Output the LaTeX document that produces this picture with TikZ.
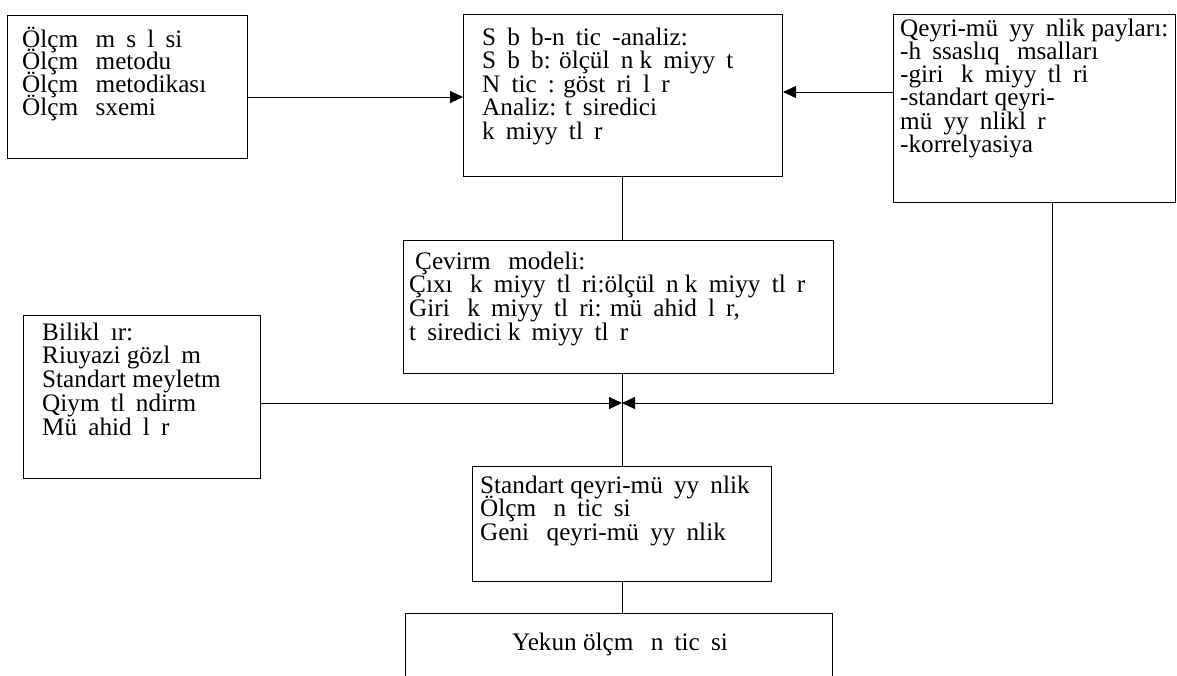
\documentclass[tikz,border=0pt]{standalone}
\usepackage{fontspec}
\setmainfont{Liberation Serif}
\usetikzlibrary{arrows.meta}
% blank of one letter width
\newcommand\mq{\hspace{0.444em}}
% stack of lines with a given baseline distance, baseline = first line
\newcommand\txtlines[2]{\vtop{\baselineskip=#1pt\lineskiplimit=-100pt\relax #2}}

\begin{document}
\begin{tikzpicture}[x=1pt,y=-1pt,
  box/.style={draw, line width=1.1pt, inner sep=0pt, anchor=north west},
  txt/.style={anchor=base west, inner sep=0pt, font=\fontsize{25.2}{29}\selectfont},
  link/.style={line width=0.9pt},
  arr/.style={link, -{Triangle[length=13pt,width=12pt]}}]
\useasboundingbox (0,0) rectangle (1177,675);

% boxes
\node[box, minimum width=240pt, minimum height=143pt] (A) at (7,15) {};
\node[box, minimum width=319pt, minimum height=162pt] (B) at (463,14) {};
\node[box, minimum width=282pt, minimum height=188pt] (C) at (893,14) {};
\node[box, minimum width=430pt, minimum height=133pt] (D) at (403,240) {};
\node[box, minimum width=237pt, minimum height=163pt] (E) at (23,315) {};
\node[box, minimum width=299pt, minimum height=115pt] (F) at (472,466) {};
\node[box, minimum width=427pt, minimum height=100pt] (G) at (405,613) {};

% texts
\node[txt] (tA) at (22,47) {\txtlines{22.7}{%
  \hbox{Ölçm\mq{} m\mq{}s\mq{}l\mq{}si}
  \hbox{Ölçm\mq{} metodu}
  \hbox{Ölçm\mq{} metodikası}
  \hbox{Ölçm\mq{} sxemi}}};
\node[txt] (tB) at (482,45) {\txtlines{23.5}{%
  \hbox{S\mq{}b\mq{}b-n\mq{}tic\mq{}-analiz:}
  \hbox{S\mq{}b\mq{}b: ölçül\mq{}n k\mq{}miyy\mq{}t}
  \hbox{N\mq{}tic\mq{}: göst\mq{}ri\mq{}l\mq{}r}
  \hbox{Analiz: t\mq{}siredici}
  \hbox{k\mq{}miyy\mq{}tl\mq{}r}}};
\node[txt] (tC) at (900,36) {\txtlines{23.3}{%
  \hbox{Qeyri-mü\mq{}yy\mq{}nlik payları:}
  \hbox{-h\mq{}ssaslıq \mq{}msalları}
  \hbox{-giri\mq{} k\mq{}miyy\mq{}tl\mq{}ri}
  \hbox{-standart qeyri-}
  \hbox{mü\mq{}yy\mq{}nlikl\mq{}r}
  \hbox{-korrelyasiya}}};
\node[txt] (tD) at (409,269) {\txtlines{23.7}{%
  \hbox{\hspace{6pt}Çevirm\mq{} modeli:}
  \hbox{Çıxı\mq{} k\mq{}miyy\mq{}tl\mq{}ri:ölçül\mq{}n k\mq{}miyy\mq{}tl\mq{}r}
  \hbox{Giri\mq{} k\mq{}miyy\mq{}tl\mq{}ri: mü\mq{}ahid\mq{}l\mq{}r,}
  \hbox{t\mq{}siredici k\mq{}miyy\mq{}tl\mq{}r}}};
\node[txt] (tE) at (42,340) {\txtlines{23.8}{%
  \hbox{Bilikl\mq{}ır:}
  \hbox{Riuyazi gözl\mq{}m}
  \hbox{Standart meyletm}
  \hbox{Qiym\mq{}tl\mq{}ndirm}
  \hbox{Mü\mq{}ahid\mq{}l\mq{}r}}};
\node[txt] (tF) at (480,493) {\txtlines{23.5}{%
  \hbox{Standart qeyri-mü\mq{}yy\mq{}nlik}
  \hbox{Ölçm\mq{} n\mq{}tic\mq{}si}
  \hbox{Geni\mq{} qeyri-mü\mq{}yy\mq{}nlik}}};
\node[txt, anchor=base] (tG) at (620,650) {Yekun ölçm\mq{} n\mq{}tic\mq{}si};

% connectors
\coordinate (ab) at (0,97);
\coordinate (cb) at (0,92);
\coordinate (J) at (622,403);
\coordinate (cturn) at (1052,403);

\draw[arr] (A.east |- ab) -- (B.west |- ab);
\draw[arr] (C.west |- cb) -- (B.east |- cb);
\draw[link] (B.south -| J) -- (D.north -| J);
\draw[link] (D.south -| J) -- (F.north -| J);
\draw[link] (F.south -| J) -- (G.north -| J);
\draw[arr] (E.east |- J) -- (J);
\draw[arr] (C.south -| cturn) -- (cturn) -- (J);
\end{tikzpicture}
\end{document}
